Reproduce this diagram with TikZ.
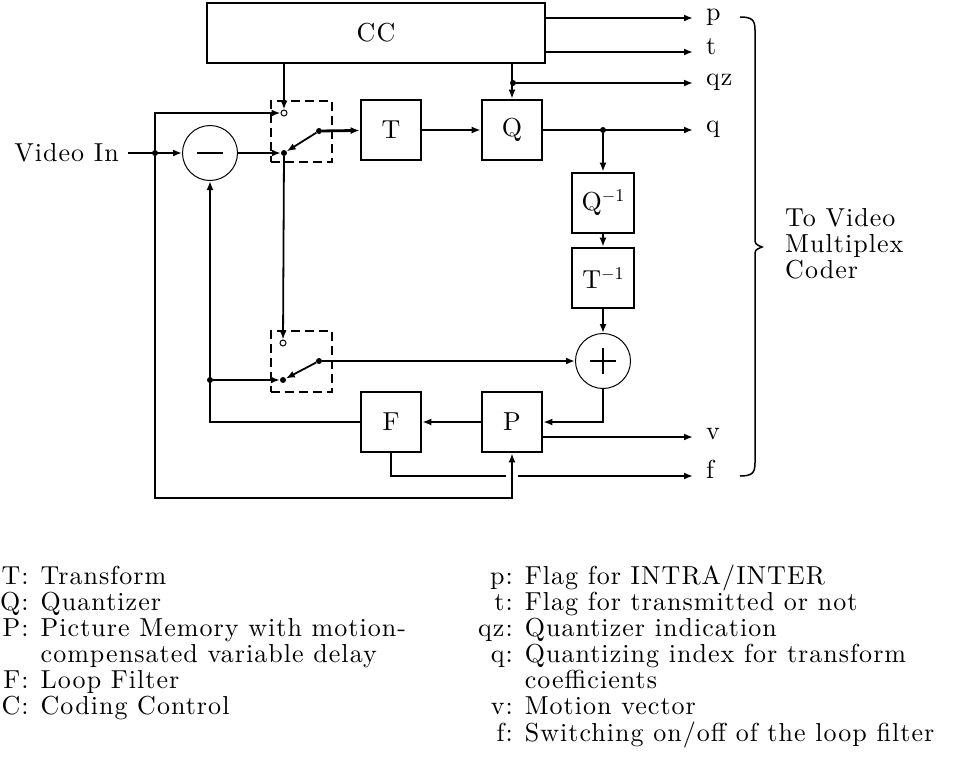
\documentclass[tikz,border=0pt]{standalone}
\usepackage{fontspec}
\setmainfont{lmroman10-regular.otf}[LetterSpace=4]
\usetikzlibrary{calc,positioning,arrows.meta}
\newcommand{\invsup}{\raisebox{9pt}{\fontsize{18}{18}\selectfont$-$1}}

\begin{document}
\begin{tikzpicture}[x=1pt,y=-1pt,>={Latex[length=9pt,width=7pt]},
  font=\fontsize{26}{26}\selectfont,
  blk/.style={draw,line width=2.6pt,minimum width=60pt,minimum height=60pt,inner sep=0pt},
  sum/.style={draw,circle,line width=1pt,minimum size=55pt,inner sep=0pt},
  swbox/.style={draw,dash pattern=on 9pt off 5pt,line width=2pt,minimum size=61pt},
  bus/.style={line width=2.8pt},
  wire/.style={line width=1.8pt},
  dot/.style={fill=black,circle,inner sep=0pt,minimum size=6pt},
  ring/.style={draw,fill=white,circle,inner sep=0pt,minimum size=6pt,line width=1pt},
  outlbl/.style={anchor=west,inner xsep=13pt,inner ysep=0pt,text height=1ex,text depth=0pt}]
  \useasboundingbox (0,0) rectangle (953,772);

  % blocks
  \node[blk,minimum width=338pt] (cc) at (376,33) {CC};
  \node[blk] (t) at (391,130) {T};
  \node[blk] (q) at (512,130) {Q};
  \node[blk,minimum width=62pt] (qi) at (603,203) {Q\invsup};
  \node[blk,minimum width=62pt] (ti) at (603,278) {T\invsup};
  \node[blk] (p) at (512,422) {P};
  \node[blk] (f) at (391,422) {F};
  \node[sum] (sub) at (210,153) {};
  \node[sum] (add) at (603,361) {};
  \draw[bus] ([xshift=-13pt]sub.center) -- ([xshift=13pt]sub.center);
  \draw[bus] ([xshift=-13pt]add.center) -- ([xshift=13pt]add.center);
  \draw[bus] ([yshift=-13pt]add.center) -- ([yshift=13pt]add.center);

  % switches
  \node[swbox] (sw1) at (301.5,131.5) {};
  \node[swbox] (sw2) at (301,361.5) {};
  \node[ring] (s1a) at (284,113) {};
  \node[dot] (s1b) at (284,153) {};
  \node[dot] (s1c) at (319,131) {};
  \node[ring] (s2a) at (283,343) {};
  \node[dot] (s2b) at (283,380) {};
  \node[dot] (s2c) at (319,361) {};

  % junctions
  \node[dot] (j1) at (155,153) {};
  \node[dot] (jqz) at (513,83) {};
  \node[dot] (jq) at (603,130) {};
  \node[dot] (jf) at (210,380) {};
  \coordinate (lb) at (155,498);

  % input and outputs
  \node[anchor=east,inner xsep=9pt,inner ysep=0pt] (vin) at (128,153) {Video In};
  \node[outlbl] (op) at (693,18) {p};
  \node[outlbl] (ot) at (693,52) {t};
  \node[outlbl] (oqz) at (693,83) {qz};
  \node[outlbl] (oq) at (693,130) {q};
  \node[outlbl] (ov) at (693,437) {v};
  \node[outlbl] (of) at (693,476) {f};

  % forward path
  \draw[wire,->] (vin.east) -- (sub);
  \draw[bus,->] (sub) -- (s1b);
  \draw[wire,->] (s1c) -- (s1b);
  \draw[bus,->] (s1c) -- (t);
  \draw[bus,->] (t) -- (q);
  \draw[bus,->] (q) -- (oq.west);
  \draw[wire,->] (jq) -- (qi);
  \draw[wire,->] (qi) -- (ti);
  \draw[wire,->] (ti) -- (add);

  % loop
  \draw[bus,->] (add) |- (p);
  \draw[wire,->] (p) -- (f);
  \draw[wire,->] (f) -| (sub);
  \draw[wire,->] (jf) -- (s2b);
  \draw[wire,->] (s2c) -- (s2b);
  \draw[bus,->] (s2c) -- (add);
  \draw[wire,->] (s1b) -- (s2a);
  \draw[wire,->] (j1) |- (s1a);
  \draw[wire,->] (j1) -- (lb) -| (p.south);

  % coding control
  \draw[wire,->] (cc.south -| s1a) -- (s1a);
  \draw[wire,->] (cc.south -| q) -- (q);
  \draw[wire,->] (cc.east |- op) -- (op.west);
  \draw[wire,->] (cc.east |- ot) -- (ot.west);
  \draw[bus,->] (jqz) -- (oqz.west);
  \draw[wire,->] (p.east |- ov) -- (ov.west);
  \draw[bus] (f.south) |- ([xshift=-6pt]p.south |- of.west);
  \draw[bus,->] ([xshift=6pt]p.south |- of.west) -- (of.west);

  % brace
  \draw[line width=1.5pt] (740,17) .. controls (752,17) and (755,20) .. (755,30) -- (755,238)
    .. controls (755,244) .. (762,247) .. controls (755,250) .. (755,256) -- (755,463)
    .. controls (755,473) and (752,476) .. (740,476);
  \node[anchor=west,align=left,inner sep=0pt] (mux) at (785,244) {To Video\\Multiplex\\Coder};

  % key
  \node[anchor=base west,inner sep=0pt] (keyl) at (0,584) {\begin{tabular}[t]{@{}r@{\hspace{12pt}}l@{}}
    T: & Transform\\
    Q: & Quantizer\\
    P: & Picture Memory with motion-\\
       & compensated variable delay\\
    F: & Loop Filter\\
    C: & Coding Control
  \end{tabular}};
  \node[anchor=base west,inner sep=0pt] (keyr) at (478,584) {\begin{tabular}[t]{@{}r@{\hspace{12pt}}l@{}}
    p: & Flag for INTRA/INTER\\
    t: & Flag for transmitted or not\\
    qz: & Quantizer indication\\
    q: & Quantizing index for transform\\
       & coefficients\\
    v: & Motion vector\\
    f: & Switching on/off of the loop filter
  \end{tabular}};
\end{tikzpicture}
\end{document}
